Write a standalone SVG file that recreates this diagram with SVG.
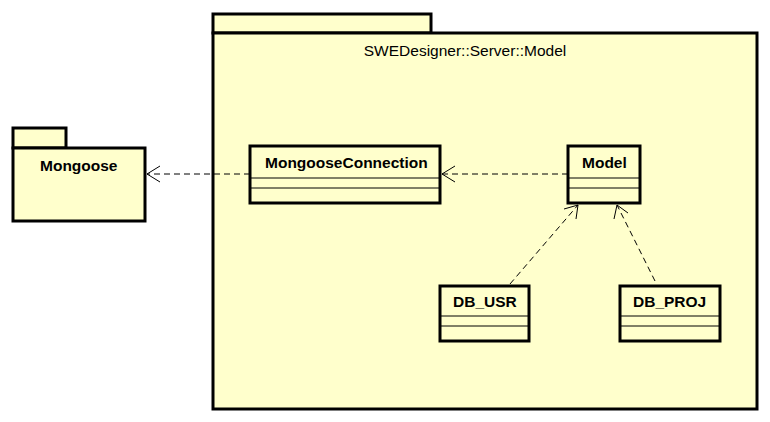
<svg xmlns="http://www.w3.org/2000/svg" width="770" height="422" viewBox="0 0 770 422">
<style>
.box{fill:#ffffcc;stroke:#000;stroke-width:3}
.sep{stroke:#000;stroke-width:1;fill:none}
.lbl{font-family:"Liberation Sans",Arial,sans-serif;font-size:15.5px;font-weight:bold;fill:#000}
.ttl{font-family:"Liberation Sans",Arial,sans-serif;font-size:15.5px;fill:#000}
.dep{stroke:#000;stroke-width:1;fill:none;stroke-dasharray:6,4}
.head{stroke:#000;stroke-width:1;fill:none}
</style>
<rect width="770" height="422" fill="#fff"/>
<g id="pkg-model">
<rect class="box" x="213" y="14" width="218" height="19"/>
<rect class="box" x="213" y="33" width="544" height="376"/>
<text class="ttl" x="465" y="56" text-anchor="middle">SWEDesigner::Server::Model</text>
</g>
<g id="pkg-mongoose">
<rect class="box" x="13" y="128" width="53" height="20"/>
<rect class="box" x="13" y="148" width="132" height="73"/>
<text class="lbl" x="40" y="171">Mongoose</text>
</g>
<g id="MongooseConnection">
<rect class="box" x="250" y="146" width="190" height="57"/>
<line class="sep" x1="250" y1="178" x2="440" y2="178"/>
<line class="sep" x1="250" y1="188" x2="440" y2="188"/>
<text class="lbl" x="265" y="168">MongooseConnection</text>
</g>
<g id="Model">
<rect class="box" x="568" y="146" width="72" height="57"/>
<line class="sep" x1="568" y1="178" x2="640" y2="178"/>
<line class="sep" x1="568" y1="188" x2="640" y2="188"/>
<text class="lbl" x="582" y="168">Model</text>
</g>
<g id="DB_USR">
<rect class="box" x="440" y="286" width="89" height="55"/>
<line class="sep" x1="440" y1="316" x2="529" y2="316"/>
<line class="sep" x1="440" y1="326" x2="529" y2="326"/>
<text class="lbl" x="453" y="307">DB_USR</text>
</g>
<g id="DB_PROJ">
<rect class="box" x="620" y="286" width="100" height="55"/>
<line class="sep" x1="620" y1="316" x2="720" y2="316"/>
<line class="sep" x1="620" y1="326" x2="720" y2="326"/>
<text class="lbl" x="633" y="307">DB_PROJ</text>
</g>
<g id="connectors">
<line class="dep" x1="250" y1="174" x2="147" y2="174"/>
<polyline class="head" points="160,166 147,174 160,182"/>
<line class="dep" x1="568" y1="174" x2="442" y2="174"/>
<polyline class="head" points="455,166 442,174 455,182"/>
<line class="dep" x1="510" y1="284" x2="578" y2="205"/>
<polyline class="head" points="564,209 578,205 576,219"/>
<line class="dep" x1="655" y1="281" x2="617" y2="205"/>
<polyline class="head" points="614,219 617,205 628,213"/>
</g>
</svg>
